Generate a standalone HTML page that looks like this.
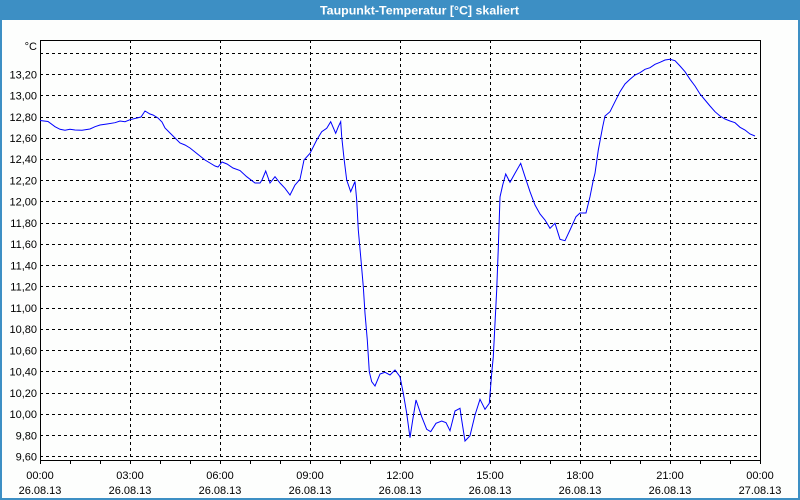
<!DOCTYPE html>
<html><head><meta charset="utf-8"><style>
html,body{margin:0;padding:0;background:#fff;}
svg{display:block;}
text{font-family:"Liberation Sans",Tahoma,sans-serif;font-size:11px;fill:#000;}
</style></head><body>
<svg width="800" height="500" viewBox="0 0 800 500" xmlns="http://www.w3.org/2000/svg">
<rect x="0" y="0" width="800" height="500" fill="#3d8fc4"/>
<rect x="2" y="20" width="796" height="478" fill="#fdfefd"/>
<text x="419.5" y="14.5" text-anchor="middle" style="font-weight:bold;font-size:12px;fill:#fff" textLength="199" lengthAdjust="spacingAndGlyphs">Taupunkt-Temperatur [°C] skaliert</text>
<g stroke="#000" stroke-width="1" stroke-dasharray="3,3" fill="none">
<path d="M40 53.5H760M40 74.5H760M40 95.5H760M40 117.5H760M40 138.5H760M40 159.5H760M40 180.5H760M40 201.5H760M40 223.5H760M40 244.5H760M40 265.5H760M40 286.5H760M40 308.5H760M40 329.5H760M40 350.5H760M40 371.5H760M40 393.5H760M40 414.5H760M40 435.5H760M40 456.5H760"/>
<path d="M130.5 40V460M220.5 40V460M310.5 40V460M400.5 40V460M490.5 40V460M580.5 40V460M670.5 40V460"/>
</g>
<rect x="40.5" y="40.5" width="720" height="420" fill="none" stroke="#000" stroke-width="1"/>
<g stroke="#000" stroke-width="1">
<path d="M40.5 460V464M70.5 460V464M100.5 460V464M130.5 460V464M160.5 460V464M190.5 460V464M220.5 460V464M250.5 460V464M280.5 460V464M310.5 460V464M340.5 460V464M370.5 460V464M400.5 460V464M430.5 460V464M460.5 460V464M490.5 460V464M520.5 460V464M550.5 460V464M580.5 460V464M610.5 460V464M640.5 460V464M670.5 460V464M700.5 460V464M730.5 460V464M760.5 460V464"/>
</g>
<g text-anchor="end">
<text x="37" y="50">°C</text>
<text x="37" y="78.5">13,20</text>
<text x="37" y="99.5">13,00</text>
<text x="37" y="121">12,80</text>
<text x="37" y="142">12,60</text>
<text x="37" y="163">12,40</text>
<text x="37" y="184.5">12,20</text>
<text x="37" y="205.5">12,00</text>
<text x="37" y="227">11,80</text>
<text x="37" y="248">11,60</text>
<text x="37" y="269.5">11,40</text>
<text x="37" y="290.5">11,20</text>
<text x="37" y="312">11,00</text>
<text x="37" y="333">10,80</text>
<text x="37" y="354.5">10,60</text>
<text x="37" y="375.5">10,40</text>
<text x="37" y="397">10,20</text>
<text x="37" y="418">10,00</text>
<text x="37" y="439.5">9,80</text>
<text x="37" y="460.5">9,60</text>
</g>
<g text-anchor="middle">
<text x="40" y="479">00:00</text><text x="40" y="494">26.08.13</text>
<text x="130" y="479">03:00</text><text x="130" y="494">26.08.13</text>
<text x="220" y="479">06:00</text><text x="220" y="494">26.08.13</text>
<text x="310" y="479">09:00</text><text x="310" y="494">26.08.13</text>
<text x="400" y="479">12:00</text><text x="400" y="494">26.08.13</text>
<text x="490" y="479">15:00</text><text x="490" y="494">26.08.13</text>
<text x="580" y="479">18:00</text><text x="580" y="494">26.08.13</text>
<text x="670" y="479">21:00</text><text x="670" y="494">26.08.13</text>
<text x="760" y="479">00:00</text><text x="760" y="494">27.08.13</text>
</g>
<polyline fill="none" stroke="#0000ff" stroke-width="1" points="40,120.5 48,121.5 55,126.7 60,129.3 65,130.3 70,129.3 75,130 82,130.3 90,129 95,126.7 100,125 107,124 115,122.7 120,121 125,121.7 130,119.7 137,118 141,117 145,111 150,114 153,115 158,118 162,122 165,128 170,133 175,138 180,143 185,145 190,148 195,152 200,156 205,160 210,163 215,166 218,167 222,162 227,164 233,168 240,170.5 246.7,176.7 255,183 260,183 262,180 265.7,171 270,183 275,176.7 280,183 285,188.3 290,195 295,185 300,179.3 304,160 310,153.3 316.7,140 321.7,131.7 326.7,128.3 330.7,121.7 335.7,133.3 338.3,126.7 340.7,121.7 341.7,136.7 344,158.3 346.7,180 350.7,191.7 355,181.5 356.7,200 358.3,230 360.7,256.7 363.3,286.7 365,313.3 367.3,340 369.3,371.7 371.7,381.7 375,386 380,374 385,372.3 390,375 395,370 400,376.7 403.3,393.3 406.7,413.3 410,437.7 412.7,420 416,400 421.7,416.7 426.7,429.3 430.7,431.7 436,423.3 441.7,421 446,422.7 450,430.7 455,411 460,408.3 461.7,420 465,441 470,435.7 475,415 480,399.3 485,409.3 489.3,403.3 491.7,373.3 493.3,356.7 495,323.3 496.7,290 498.3,248 500,197 502.7,185 505.7,174 510,182.3 515,173.3 520.7,163.3 525,176.7 530,191.7 535,205 540,214 545,220 550,228.3 555,223.3 560,239.3 565,240.7 570,230 576,216.7 580,213 586,213 590,196.7 593.3,180 595,173.3 598.3,150 602.7,126.7 605,116 610,111.7 615,101.7 620,91.7 625,84 630,79.3 635,75 640,72.7 645,69.3 650,67.7 655,64.3 660,62.3 665,60 670,59.3 675,60.7 680,66 685,71.7 690,79.3 695,86 700,94 705,100 710,106 715,111.7 720,116 725,119 730,121 735,122.7 740,127.3 745,130 750,134 755,136"/>
</svg>
</body></html>
